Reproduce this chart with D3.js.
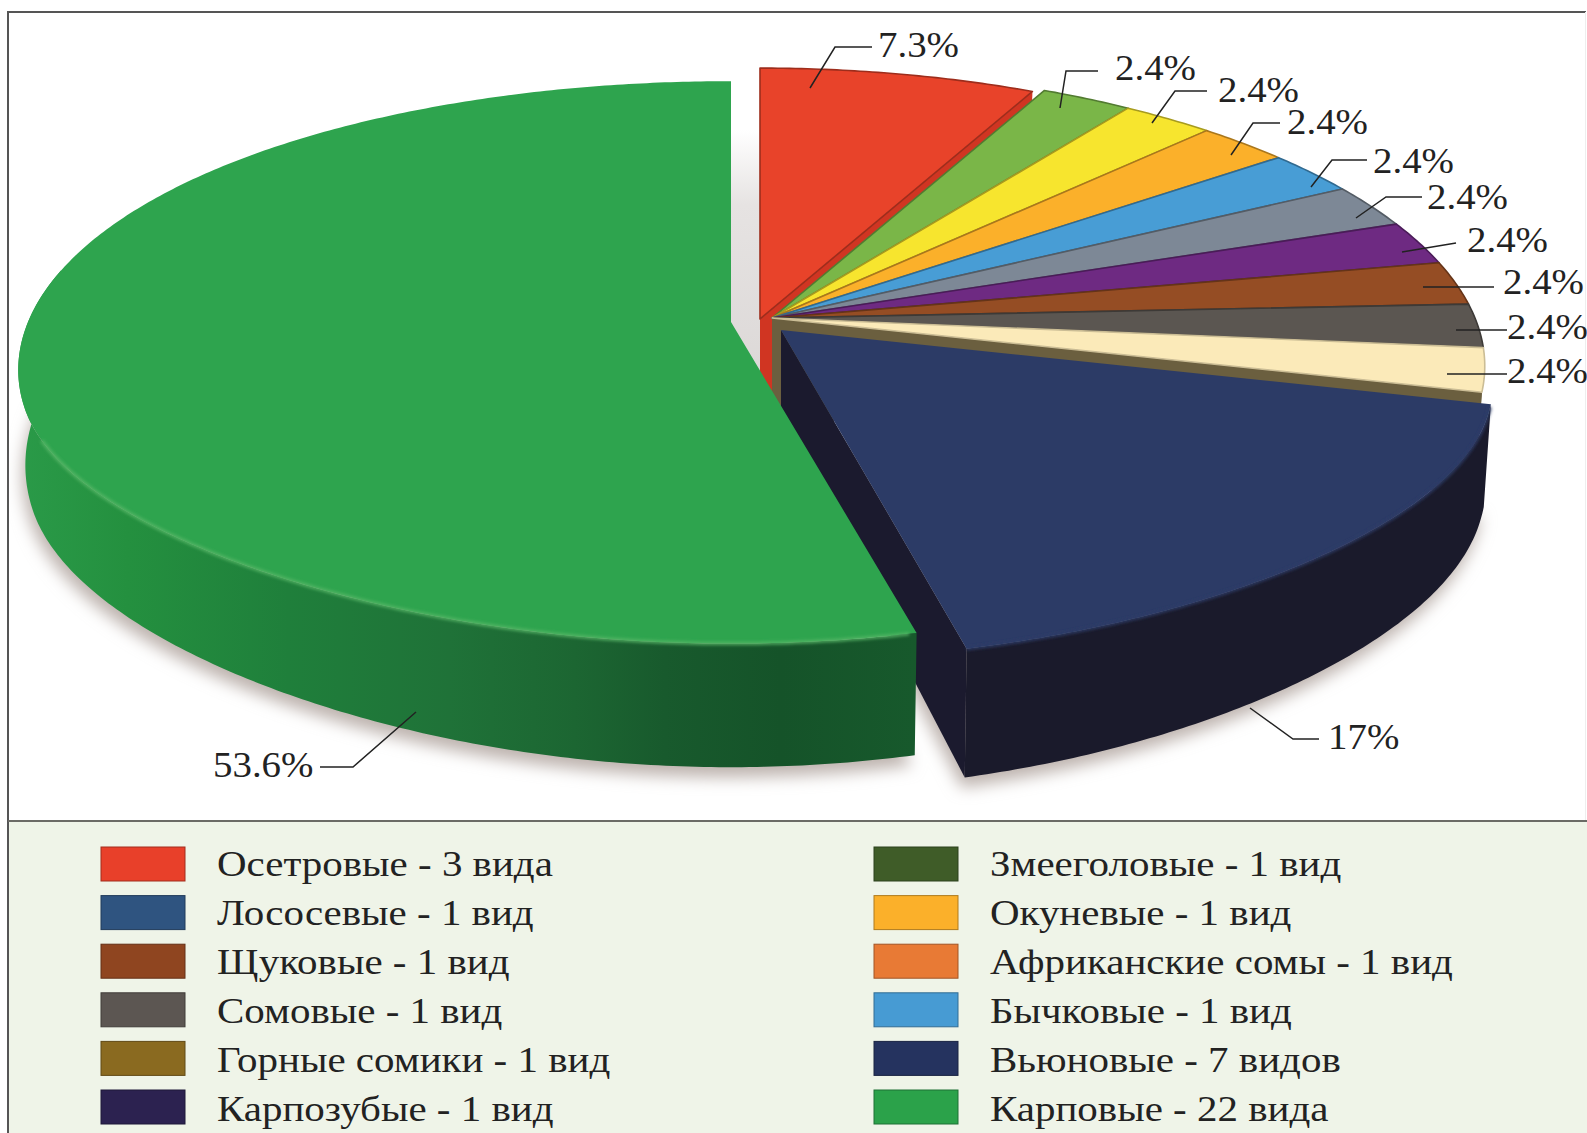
<!DOCTYPE html>
<html>
<head>
<meta charset="utf-8">
<script src="https://cdn.jsdelivr.net/npm/d3@7/dist/d3.min.js"></script>
<style>
  html, body { margin: 0; padding: 0; background: #fff; }
  svg { display: block; }
  text { font-family: "Liberation Serif", "Times New Roman", serif; fill: #222; }
</style>
</head>
<body>
<svg id="chart" width="1587" height="1133"></svg>
<script>
// Share of species per fish family, clockwise from twelve o'clock
const sliceValues = [7.3, 2.4, 2.4, 2.4, 2.4, 2.4, 2.4, 2.4, 2.4, 2.4, 17, 53.6];
const sliceColors = ["#e8432a", "#7ab648", "#f7e52e", "#fbb02a", "#489dd5", "#7d8896",
                     "#6e2a82", "#954d24", "#5b5651", "#fbeab9", "#2c3b66", "#2ea44e"];
const wallColors  = ["#d03522", "#5a8a34", "#b0a420", "#c0861e", "#33739c", "#5a6270",
                     "#4e1e5c", "#6e3818", "#3f3b38", "#6b5f3f", "#1a1a2b", "url(#greenWall)"];

const legendLeft = ["Осетровые - 3 вида", "Лососевые - 1 вид", "Щуковые - 1 вид",
                    "Сомовые - 1 вид", "Горные сомики - 1 вид", "Карпозубые - 1 вид"];
const legendRight = ["Змееголовые - 1 вид", "Окуневые - 1 вид", "Африканские сомы - 1 вид",
                     "Бычковые - 1 вид", "Вьюновые - 7 видов", "Карповые - 22 вида"];
const legendLeftColors = ["#e8402a", "#2f5480", "#8f4520", "#5c5652", "#8a6a20", "#2c2250"];
const legendRightColors = ["#3f5c28", "#fbb02a", "#e87a35", "#479bd3", "#25335f", "#2ba24a"];

// Camera used to lay the disc on its plane
const camera = { cx: 772, cy: 318, rx: 703, ry: 285, px: 0.165, py: 0.136, lens: 0.16, depth: 96, depthSkew: 0.262, baseShrink: 0.99 };
// How far each slice is pulled away from the hub
const pull = [[-12, 1], [0, 0], [0, 0], [0, 0], [0, 0], [0, 0], [0, 0], [0, 0], [0, 0], [0, 0], [9, 12], [-41, 4]];
// Far and near halves of the largest slice sit a little flatter, and it is slightly thinner
const farFlatten = [1, 1, 1, 1, 1, 1, 1, 1, 1, 1, 1, 0.96];
const nearFlatten = [1, 1, 1, 1, 1, 1, 1, 1, 1, 1, 1, 0.975];
const thickness = [1, 1, 1, 1, 1, 1, 1, 1, 1, 1, 1, 0.95];

// Leader polylines and where their captions start
const leaders = [
  { path: [[810, 88], [835, 47], [872, 47]], text: [878, 57] },
  { path: [[1060, 108], [1066, 71], [1098, 71]], text: [1115, 80] },
  { path: [[1152, 123], [1175, 91], [1207, 91]], text: [1218, 102] },
  { path: [[1231, 155], [1253, 123], [1280, 123]], text: [1287, 134] },
  { path: [[1311, 187], [1332, 160], [1367, 160]], text: [1373, 173] },
  { path: [[1356, 218], [1386, 197], [1422, 197]], text: [1427, 209] },
  { path: [[1402, 252], [1456, 243]], text: [1467, 252] },
  { path: [[1423, 287], [1494, 287]], text: [1503, 294] },
  { path: [[1456, 330], [1507, 330]], text: [1507, 339] },
  { path: [[1447, 374], [1507, 374]], text: [1507, 383] },
  { path: [[1250, 708], [1293, 739], [1319, 739]], text: [1328, 749] },
  { path: [[416, 712], [353, 767], [320, 767]], text: [213, 777] }
];

const svg = d3.select("#chart");
const defs = svg.append("defs");

defs.append("filter").attr("id", "soft").attr("x", "-10%").attr("y", "-10%").attr("width", "120%").attr("height", "120%")
  .append("feGaussianBlur").attr("stdDeviation", 8);
defs.append("filter").attr("id", "rim").attr("x", "-5%").attr("y", "-5%").attr("width", "110%").attr("height", "110%")
  .append("feGaussianBlur").attr("stdDeviation", 1.6);

const wallGrad = defs.append("linearGradient").attr("id", "greenWall")
  .attr("gradientUnits", "userSpaceOnUse").attr("x1", 20).attr("x2", 915).attr("y1", 0).attr("y2", 0);
[[0, "#2a9a48"], [0.12, "#24903f"], [0.3, "#1f7f3b"], [0.48, "#1f7238"], [0.62, "#1c6632"], [0.72, "#185a2d"],
 [0.85, "#155329"], [1, "#17592c"]].forEach(([o, c]) => wallGrad.append("stop").attr("offset", o).attr("stop-color", c));

const gapGrad = defs.append("linearGradient").attr("id", "gapShade").attr("x1", 0).attr("x2", 0).attr("y1", 0).attr("y2", 1);
[[0, "#ffffff"], [0.3, "#e6e3e2"], [1, "#dcd8d7"]].forEach(([o, c]) => gapGrad.append("stop").attr("offset", o).attr("stop-color", c));

// Plot area and legend panel
svg.append("rect").attr("x", 8).attr("y", 821).attr("width", 1579).attr("height", 312).attr("fill", "#eff4e8");
svg.append("path").attr("d", "M8,1133V12H1586").attr("fill", "none").attr("stroke", "#555").attr("stroke-width", 2);
svg.append("line").attr("x1", 8).attr("x2", 1587).attr("y1", 821).attr("y2", 821).attr("stroke", "#6b6b66").attr("stroke-width", 2);
svg.append("line").attr("x1", 1585.5).attr("x2", 1585.5).attr("y1", 12).attr("y2", 820).attr("stroke", "#eee").attr("stroke-width", 1);

const arcs = d3.pie().sort(null).value(d => d)(sliceValues);

// Maps a polar position on the disc to the screen; level 1 is the underside
function project(angle, radius, i, level) {
  const X = radius * Math.sin(angle);
  const Y = radius * Math.cos(angle);
  const shrink = level ? camera.baseShrink : 1;
  const near = Math.min(0, Y + 0.3);
  const wx = 1 + camera.px * Y + camera.lens * near * near;
  const flat = Y > 0 ? 1 - (1 - farFlatten[i]) * Y : 1 + (1 - nearFlatten[i]) * Y;
  return [
    camera.cx + pull[i][0] + shrink * camera.rx * X / wx,
    camera.cy + pull[i][1] - flat * camera.ry * Y / (1 + camera.py * Y)
      + (level ? thickness[i] * camera.depth / (1 + camera.depthSkew * Y) : 0)
  ];
}

function rim(a0, a1, i, level) {
  const n = Math.max(2, Math.ceil(Math.abs(a1 - a0) / 0.01));
  return d3.range(n + 1).map(k => project(a0 + (a1 - a0) * k / n, 1, i, level));
}

const line = d3.line();
const closed = pts => line(pts) + "Z";
const hub = (i, level) => project(0, 0, i, level);

const topFace = (a, i) => closed([hub(i, 0), ...rim(a.startAngle, a.endAngle, i, 0)]);
const outerWall = (a0, a1, i) => closed([...rim(a0, a1, i, 0), ...rim(a1, a0, i, 1)]);
const radialWall = (angle, i) => closed([hub(i, 0), project(angle, 1, i, 0), project(angle, 1, i, 1), hub(i, 1)]);

// Contact shadow on the ground below the two large slices
const shadow = svg.append("g").attr("filter", "url(#soft)").attr("transform", "translate(-3,10)");
[10, 11].forEach(i => {
  const a = arcs[i];
  shadow.append("path").attr("d", closed([hub(i, 1), ...rim(a.startAngle, a.endAngle, i, 1)])).attr("fill", "#bdb3ae");
});

// Sliver of shade in the gap opened by the pulled-out slices
const gapLeft = hub(11, 0)[0];
const gapRight = hub(0, 0)[0];
svg.append("rect").attr("x", gapLeft - 4).attr("y", 130).attr("width", gapRight - gapLeft + 6).attr("height", 250).attr("fill", "url(#gapShade)");

// Small slices: walls first, faces on top
const walls = svg.append("g");
const faces = svg.append("g");
arcs.slice(0, 10).forEach((a, i) => {
  walls.append("path").attr("d", radialWall(a.endAngle, i)).attr("fill", wallColors[i]);
  if (a.endAngle > Math.PI / 2) {
    walls.append("path").attr("d", outerWall(Math.max(a.startAngle, Math.PI / 2 - 0.1), a.endAngle, i)).attr("fill", wallColors[i]);
  }
});
arcs.slice(0, 10).forEach((a, i) => {
  faces.append("path").attr("d", topFace(a, i))
    .attr("fill", sliceColors[i])
    .attr("stroke", d3.color(sliceColors[i]).darker(i === 9 ? 0.6 : 1.1))
    .attr("stroke-width", 1.6).attr("stroke-linejoin", "round");
});

// The two large slices stand proud of the rest
[10, 11].forEach(i => {
  const a = arcs[i];
  if (i === 10) svg.append("path").attr("d", radialWall(a.endAngle, i)).attr("fill", "#1b1a2e");
  svg.append("path").attr("d", outerWall(a.startAngle, i === 10 ? a.endAngle : Math.PI * 1.56, i)).attr("fill", wallColors[i]);
  svg.append("path").attr("d", topFace(a, i)).attr("fill", sliceColors[i]);
  svg.append("path").attr("d", line(rim(a.startAngle + 0.01, i === 10 ? a.endAngle : Math.PI * 1.37, i, 0)))
    .attr("fill", "none").attr("filter", "url(#rim)")
    .attr("stroke", i === 10 ? "#2c3b66" : "#58b868").attr("stroke-width", 3.5)
    .attr("stroke-opacity", i === 10 ? 0.9 : 0.8);
});

// Widens a text run to the set proportions of the serif face
function stretch(sel, factor) {
  const w = sel.node().getComputedTextLength();
  sel.attr("textLength", w * factor).attr("lengthAdjust", "spacingAndGlyphs");
}

// Leaders and percentage captions
const labels = svg.append("g");
leaders.forEach((d, i) => {
  labels.append("path").attr("d", line(d.path)).attr("fill", "none").attr("stroke", "#222").attr("stroke-width", 1.5);
  const t = labels.append("text").attr("x", d.text[0]).attr("y", d.text[1]).attr("font-size", 36)
    .text(sliceValues[i] + "%");
  stretch(t, 1.08);
});

// Legend in two columns
const rowScale = d3.scalePoint().domain(d3.range(6)).range([847, 1090]);
const baselineScale = d3.scalePoint().domain(d3.range(6)).range([876, 1121]);
function legendColumn(names, colors, boxX, boxW, textX) {
  names.forEach((name, i) => {
    svg.append("rect").attr("x", boxX).attr("y", rowScale(i)).attr("width", boxW).attr("height", 34)
      .attr("fill", colors[i]).attr("stroke", d3.color(colors[i]).darker(1)).attr("stroke-width", 1);
    const t = svg.append("text").attr("x", textX).attr("y", baselineScale(i)).attr("font-size", 35).text(name);
    stretch(t, 1.17);
  });
}
legendColumn(legendLeft, legendLeftColors, 101, 84, 217);
legendColumn(legendRight, legendRightColors, 874, 84, 990);
</script>
</body>
</html>
